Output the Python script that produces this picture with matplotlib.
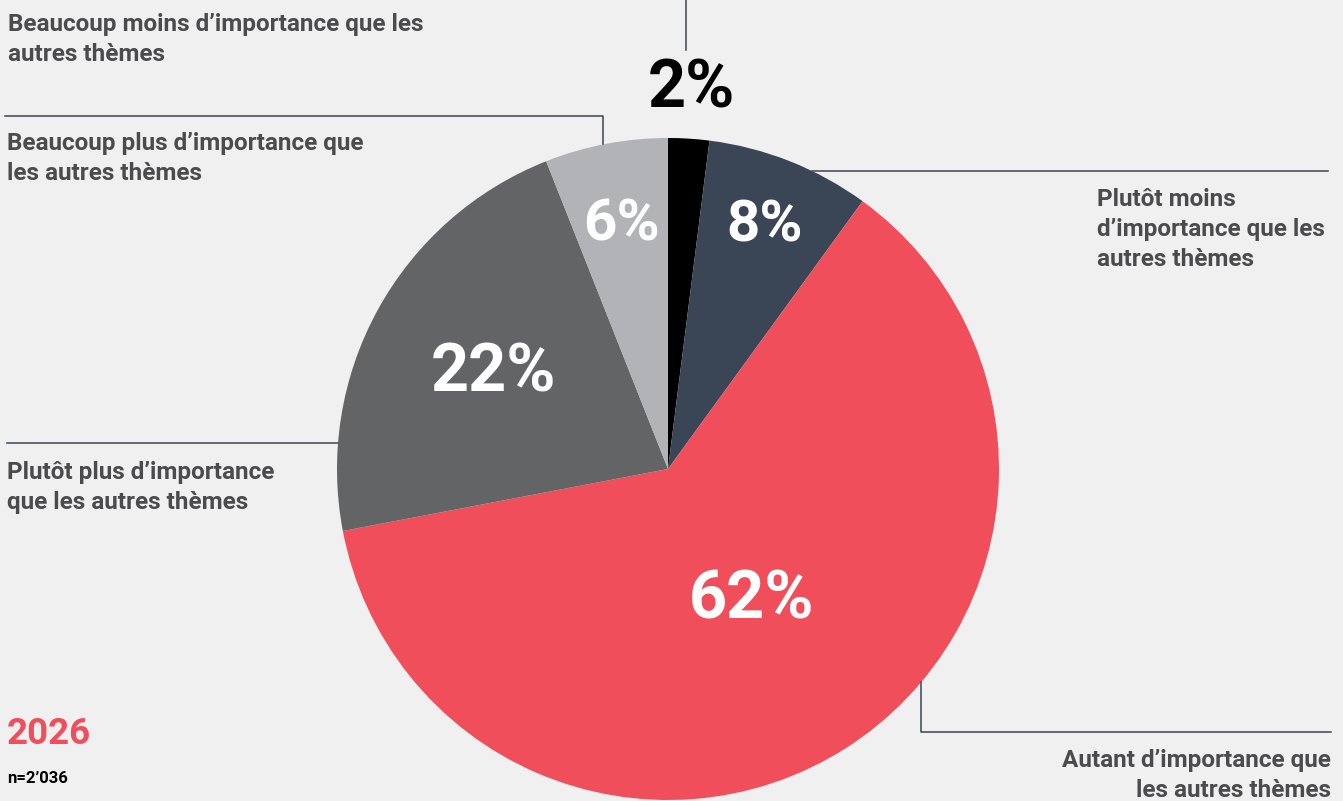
import numpy as np
import matplotlib
matplotlib.use("Agg")
import matplotlib.pyplot as plt

W, H = 1343, 801

# ---- data ----
categories = [
    "Beaucoup moins d\u2019importance que les\nautres thèmes",
    "Plutôt moins\nd\u2019importance que les\nautres thèmes",
    "Autant d\u2019importance que\nles autres thèmes",
    "Plutôt plus d\u2019importance\nque les autres thèmes",
    "Beaucoup plus d\u2019importance que\nles autres thèmes",
]
values = [2, 8, 62, 22, 6]
pct_labels = ["2%", "8%", "62%", "22%", "6%"]
colors = ["#000000", "#3a4556", "#f04e5b", "#636466", "#b1b3b6"]
year_label = "2026"
n_label = "n=2\u2019036"

# ---- style ----
BG = "#f0f0f0"
LINE = "#3a4556"
TXT = "#4b4b4d"
plt.rcParams['font.family'] = ['Roboto', 'DejaVu Sans']

fig = plt.figure(figsize=(W / 100, H / 100), dpi=100, facecolor=BG)
ax = fig.add_axes([0, 0, 1, 1])
ax.set_facecolor(BG)

def P(y):
    return H - y

cx, cy, R = 668, 469, 331
ax.pie(values, colors=colors, startangle=90, counterclock=False,
       center=(cx, P(cy)), radius=R, frame=False,
       wedgeprops=dict(linewidth=0))
ax.set_xlim(0, W)
ax.set_ylim(0, H)
ax.set_aspect('auto')
ax.axis('off')

# percentage labels placed along mid-angles
total = sum(values)
cum = np.cumsum([0] + values[:-1])
rad_frac = [1.15, 0.79, 0.47, 0.60, 0.75]
sizes = [48, 42, 48, 48, 42]
tcolors = ["#000000", "white", "white", "white", "white"]
for v, c0, lab, rf, fs, tc in zip(values, cum, pct_labels, rad_frac, sizes, tcolors):
    ang = np.deg2rad(90 - (c0 + v / 2) / total * 360)
    x = cx + rf * R * np.cos(ang)
    y = P(cy) + rf * R * np.sin(ang)
    ax.text(x, y, lab, ha='center', va='center', fontsize=fs,
            fontweight='bold', color=tc)

def circle_y_at_x(x, upper=True):
    d = np.sqrt(R ** 2 - (x - cx) ** 2)
    return cy - d if upper else cy + d

def circle_x_at_y(y, right=True):
    d = np.sqrt(R ** 2 - (y - cy) ** 2)
    return cx + d if right else cx - d

lw = 1.1
# leader lines (pixel layout)
ax.plot([686, 686], [P(0), P(50)], color=LINE, lw=lw)
ax.plot([5, 603, 603], [P(116), P(116), P(circle_y_at_x(603))], color=LINE, lw=lw)
ax.plot([circle_x_at_y(171), 1328], [P(171), P(171)], color=LINE, lw=lw)
ax.plot([7, circle_x_at_y(443, right=False)], [P(443), P(443)], color=LINE, lw=lw)
ax.plot([921, 921, 1331], [P(circle_y_at_x(921, upper=False)), P(732), P(732)],
        color=LINE, lw=lw)

# category labels (y = baseline of last line)
fsl = 17.5
ls = 1.38
lab_pos = [
    (8, 61, 'left'),
    (1097, 266, 'left'),
    (1331, 797, 'right'),
    (7, 509, 'left'),
    (7, 180, 'left'),
]
for txt, (x, yb, ha) in zip(categories, lab_pos):
    ax.text(x, P(yb), txt, ha=ha, va='baseline', fontsize=fsl,
            fontweight='bold', color=TXT, linespacing=ls,
            multialignment=ha)

ax.text(7, P(744), year_label, ha='left', va='baseline', fontsize=26.5,
        fontweight='bold', color="#f04e5b")
ax.text(7, P(783), n_label, ha='left', va='baseline', fontsize=12,
        fontweight='bold', color="#000000")

fig.savefig("out.png", dpi=100, facecolor=BG)
